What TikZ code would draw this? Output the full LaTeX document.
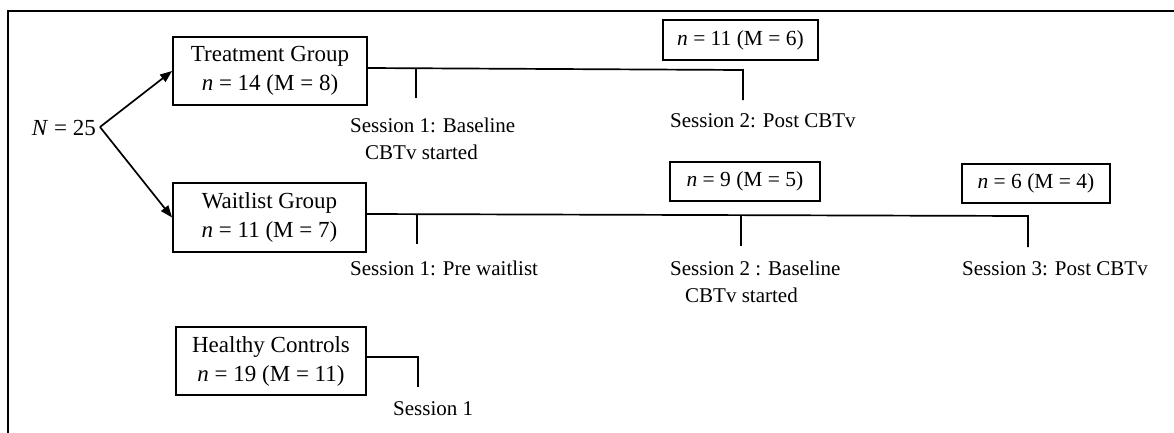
\documentclass[tikz,border=0pt]{standalone}
\usepackage{fontspec}
\setmainfont{Liberation Serif}
\usetikzlibrary{arrows.meta}
\tikzset{
  box/.style={draw, line width=1.8pt, inner sep=0pt, align=center},
  grp/.style={box, font=\fontsize{23}{29}\selectfont},
  cnt/.style={box, font=\fontsize{21.5}{25}\selectfont},
  lbl/.style={anchor=base west, inner sep=0pt, font=\fontsize{21}{25}\selectfont},
  conn/.style={line width=1.7pt},
  arr/.style={line width=1.7pt, -{Triangle[length=12pt,width=9pt]}},
  frame/.style={line width=1.8pt}
}
\begin{document}
\begin{tikzpicture}[x=1pt,y=-1pt]
\useasboundingbox (0,0) rectangle (1174,432);
% frame
\coordinate (fbl) at (8,433);
\coordinate (ftl) at (8,11);
\coordinate (ftr) at (1175,11);
\draw[frame] (fbl) -- (ftl) -- (ftr);

% N
\node[anchor=east, inner sep=0pt, font=\fontsize{23}{29}\selectfont] (N) at (96,128) {\textit{N} = 25};
\coordinate (v) at (100,127);

% group boxes
\node[grp, minimum width=194pt, minimum height=68pt] (treat) at (270,71) {Treatment Group\\\textit{n} = 14 (M = 8)};
\node[grp, minimum width=193pt, minimum height=69pt] (wait) at (269.5,217.5) {Waitlist Group\\\textit{n} = 11 (M = 7)};
\node[grp, minimum width=190pt, minimum height=68pt] (healthy) at (271,361) {Healthy Controls\\\textit{n} = 19 (M = 11)};

\draw[arr] (v) -- (treat.west);
\draw[arr] (v) -- (wait.west);

% count boxes
\node[cnt, minimum width=155pt, minimum height=40pt] (c11) at (740.5,40) {\textit{n} = 11 (M = 6)};
\node[cnt, minimum width=150pt, minimum height=39pt] (c9) at (745,181.5) {\textit{n} = 9 (M = 5)};
\node[cnt, minimum width=148pt, minimum height=39pt] (c6) at (1036,183.5) {\textit{n} = 6 (M = 4)};

% treatment timeline
\coordinate (t0) at (treat.east |- 0,68);
\coordinate (t1) at (416,68.3);
\coordinate (t1b) at (416,98);
\coordinate (t2) at (743,70);
\coordinate (t2b) at (743,100);
\draw[conn] (t0) -- (t2) -- (t2b);
\draw[conn] (t1) -- (t1b);

% waitlist timeline
\coordinate (w0) at (wait.east |- 0,214);
\coordinate (w1) at (417,214.2);
\coordinate (w1b) at (417,244);
\coordinate (w2) at (741,215.2);
\coordinate (w2b) at (741,246);
\coordinate (w3) at (1028,216);
\coordinate (w3b) at (1028,247);
\draw[conn] (w0) -- (w3) -- (w3b);
\draw[conn] (w1) -- (w1b);
\draw[conn] (w2) -- (w2b);

% healthy timeline
\coordinate (h0) at (healthy.east |- 0,357);
\coordinate (h1) at (418,357);
\coordinate (h1b) at (418,387);
\draw[conn] (h0) -- (h1) -- (h1b);

% labels
\node[lbl] (ls1a) at (350,132) {Session 1: Baseline};
\node[lbl] (ls1b) at (365,159) {CBTv started};
\node[lbl] (ls2) at (670,127) {Session 2: Post CBTv};
\node[lbl] (lw1) at (350,275) {Session 1: Pre waitlist};
\node[lbl] (lw2a) at (670,275) {Session 2 : Baseline};
\node[lbl] (lw2b) at (685,302) {CBTv started};
\node[lbl] (lw3) at (962,275) {Session 3: Post CBTv};
\node[lbl] (lh1) at (393,415) {Session 1};
\end{tikzpicture}
\end{document}
